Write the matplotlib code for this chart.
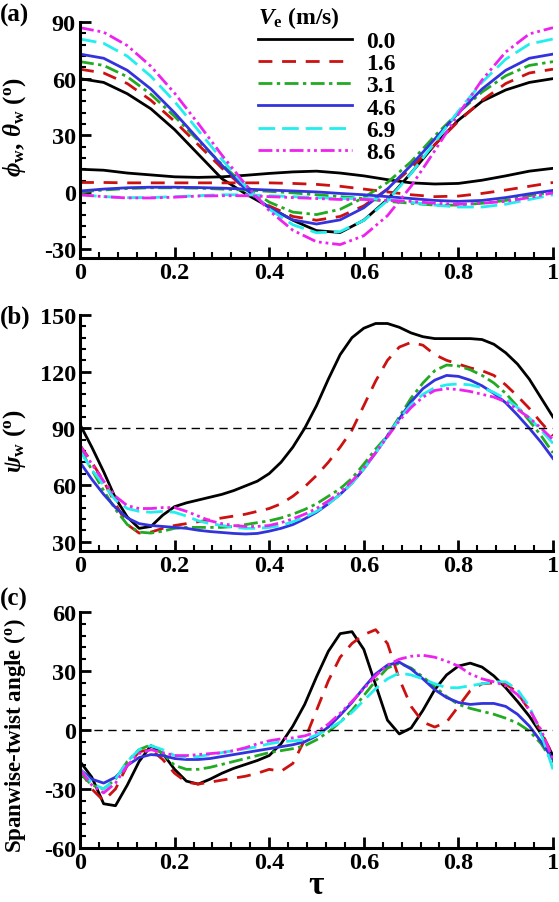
import numpy as np
import matplotlib
matplotlib.use("Agg")
import matplotlib.pyplot as plt
from matplotlib.ticker import MultipleLocator

plt.rcParams['font.family'] = ['Liberation Serif', 'DejaVu Serif']
plt.rcParams['font.weight'] = 'bold'
plt.rcParams['mathtext.fontset'] = 'custom'
plt.rcParams['mathtext.rm'] = 'Liberation Serif:bold'
plt.rcParams['mathtext.it'] = 'Liberation Serif:italic:bold'
plt.rcParams['mathtext.bf'] = 'Liberation Serif:bold'
plt.rcParams['axes.unicode_minus'] = False

# ---------------- data ----------------
speeds = ['0.0', '1.6', '3.1', '4.6', '6.9', '8.6']

tau_a = [0.0, 0.05, 0.1, 0.15, 0.2, 0.25, 0.3, 0.35, 0.4, 0.45, 0.5,
         0.55, 0.6, 0.65, 0.7, 0.75, 0.8, 0.85, 0.9, 0.95, 1.0]

phi_00 = [60, 58, 52, 44, 33, 20, 7, -1, -8, -15, -20.5, -21.5, -15, -4, 10, 25, 38, 48, 54, 58, 60]
phi_16 = [65, 63, 57.4, 48.5, 37.4, 25, 12.6, 1.5, -7.4, -13, -15, -13, -7.4, 1.5, 12.6, 25, 37.4, 48.5, 57.4, 63, 65]
phi_31 = [69, 67, 61, 51.7, 40, 27.2, 14.5, 3.2, -5.4, -10.7, -12, -9.2, -3, 5, 16, 29.7, 42, 52.9, 61.5, 67, 69]
phi_46 = [73, 70.8, 64.4, 54.5, 41.9, 28, 14.1, 1.5, -8.4, -14.8, -17, -14.8, -8.4, 1.5, 14.1, 28, 41.9, 54.5, 64.4, 70.8, 73]
phi_69 = [81, 78.7, 71.9, 61.2, 47.9, 32.6, 17.2, 3, -9.1, -17.4, -21.6, -21, -15.1, -4.6, 9.8, 26.2, 42.8, 58.1, 70.3, 78.3, 81]
phi_86 = [87, 84.6, 77.5, 66.5, 52.3, 36.2, 19.5, 3.9, -9.9, -20.3, -26.4, -27.9, -23.2, -12.6, 3, 21.8, 41.2, 59.3, 74.1, 83.7, 87]

theta_00 = [12, 11.5, 10, 9, 8, 7.7, 8, 8.8, 9.8, 10.6, 11, 10, 8.5, 6.5, 4.8, 4.2, 4.5, 6.2, 8.5, 11, 12.5]
theta_16 = [5, 5, 4.8, 4.8, 4.8, 4.8, 4.8, 4.8, 4.8, 4.5, 4, 3, 1.5, 0, -1.5, -2.5, -2.2, -0.8, 1, 3, 5]
theta_31 = [0, 1, 1.8, 2.2, 2.2, 2, 1.5, 1, 0.3, -0.5, -1.5, -2.5, -3.5, -5, -6, -7, -7, -6, -4.5, -2, 0]
theta_46 = [0.5, 1.5, 2.2, 2.5, 2.5, 2.3, 2, 1.5, 1, 0.5, 0, -0.8, -1.5, -2.5, -3.5, -4.5, -5, -4.5, -3, -1, 0.8]
theta_69 = [-1.5, -2.5, -3, -3, -2.5, -2, -1.5, -1.5, -2, -2.5, -3, -3.5, -3.5, -4, -5.5, -7, -8, -8, -6.5, -4, -1.5]
theta_86 = [-1.5, -2.5, -3.2, -3.2, -2.8, -2.2, -2, -2, -2.5, -3, -3.5, -4, -4, -4.5, -5, -6, -6.5, -6, -5, -3, -0.5]

tau_bc = [0.0, 0.025, 0.05, 0.075, 0.1, 0.125, 0.15, 0.175, 0.2, 0.225,
          0.25, 0.275, 0.3, 0.325, 0.35, 0.375, 0.4, 0.425, 0.45, 0.475,
          0.5, 0.525, 0.55, 0.575, 0.6, 0.625, 0.65, 0.675, 0.7, 0.725,
          0.75, 0.775, 0.8, 0.825, 0.85, 0.875, 0.9, 0.925, 0.95, 0.975, 1.0]

psi_00 = [92, 80, 67, 53, 43, 37, 38, 44, 48.5, 50.5, 52, 53.5, 55, 57, 59.5, 62, 66, 72, 80, 90,
          102, 116, 129, 138, 143, 145.5, 145.5, 143.5, 140.5, 138.5, 137.5, 137.5, 137.5, 137.5,
          137, 134.5, 130, 124, 116, 106, 96]
psi_16 = [81, 72, 62, 50, 39, 34.5, 35, 37, 38.5, 39.5, 40.5, 41.5, 42.5, 43.5, 44.5, 46, 47.5, 50, 54, 59,
          65, 72, 80, 89, 102, 115, 126, 133, 135.5, 134, 129, 126, 124, 122, 120.5, 118, 113, 107,
          100.5, 93, 86]
psi_31 = [79, 68, 57, 47, 39, 35, 34.5, 35.5, 37, 37.5, 37.5, 37.5, 37.5, 38, 39, 40, 41, 42.5, 44.5, 47,
          50, 54, 58, 63.5, 71, 79, 86, 96, 106, 114, 120.5, 123.5, 123, 121, 118, 114, 108.5, 101.5,
          94, 86, 77]
psi_46 = [72, 63, 55, 48, 42.5, 39.5, 38.5, 38, 37.5, 37, 36, 35.3, 34.8, 34.3, 34, 34.3, 35.5, 37, 39, 42,
          45.5, 50, 55, 61, 68.5, 77, 86, 95, 104, 111, 115.5, 118, 117.5, 115.5, 112.5, 108.5, 103.5,
          97, 90, 82.5, 74]
psi_69 = [78, 68, 60, 52, 47.5, 46, 45.5, 46, 45.5, 43.5, 41, 39.5, 38.5, 37.5, 37, 37, 37.5, 38.5, 40.5, 43,
          46, 50, 55, 61, 68.5, 77, 86, 95, 102.5, 108, 111.5, 113, 113.5, 113, 111.5, 109, 105.5, 101,
          95.5, 89, 82]
psi_86 = [81, 71, 62, 54, 49, 47.5, 47.5, 48, 48, 46, 43.5, 41, 39.5, 38.5, 38, 38, 38.5, 40, 42, 44.5,
          47.5, 51.5, 56, 62, 69, 77, 85.5, 94, 101, 106.5, 110, 111, 110.5, 109.5, 108, 106.5, 104, 100,
          95.5, 90, 84]

twist_00 = [-16, -24, -37.5, -38.5, -28, -16, -8, -12, -20, -26, -27.5, -25, -22, -19.5, -17.5, -15.5, -13,
            -7, 2, 13, 27, 40, 49, 50, 41, 23, 5, -2, 1, 10, 20.5, 28, 32.5, 34, 32, 27.5, 21.5, 14.5, 7, -2, -13]
twist_16 = [-20, -30, -36, -30, -18, -11, -10, -15, -22, -26.5, -27.5, -26.5, -25.5, -24.5, -23.5, -22, -20,
            -21, -17, -5, 10, 25, 37, 44, 48.5, 51, 44, 26, 12, 4, 1.5, 4, 12, 20, 23.5, 24, 23.5, 19, 10, -1, -13]
twist_31 = [-22, -28, -30, -25, -16, -10, -7.5, -12, -18, -20, -20, -19, -17.5, -16, -14.5, -13, -11.5,
            -10.5, -9.5, -8, -5, -1, 4, 10, 17.5, 25, 31.5, 34, 31.5, 27, 22, 17, 13, 11, 9.5, 8, 6, 3.5, -0.5, -7, -16.5]
twist_46 = [-20, -25, -27, -24, -18, -14, -12.5, -13, -14.5, -15, -15, -14.5, -13.5, -12.5, -11.5, -10.5,
            -9.5, -8.5, -7.5, -6, -3, 1.5, 7.5, 14, 21.5, 28.5, 33, 34.5, 31, 26, 20.5, 16.5, 14, 13, 13.5,
            13.5, 12, 8, 2, -6, -15]
twist_69 = [-20, -27, -30, -25, -16, -10, -8, -10, -13, -14, -13.5, -12.5, -11.5, -10.5, -9.5, -8.5, -7, -6,
            -5.5, -5, -2.5, 0.5, 4, 9, 15, 21, 26, 29, 28, 26, 23.5, 21.5, 21.5, 22.5, 23.5, 24.5, 24.5, 20.5,
            12, -2, -20]
twist_86 = [-20, -28, -32, -27, -18, -12, -10, -11.5, -13, -13, -12.5, -12, -11.5, -10.5, -9, -7, -5.5, -4.5,
            -4, -3, -1, 3, 8.5, 14.5, 21, 27.5, 33, 36, 37.5, 38, 37, 35, 32.5, 28.5, 26, 24.5, 22.5, 18, 10.5, 0, -15]

phi_all = [phi_00, phi_16, phi_31, phi_46, phi_69, phi_86]
theta_all = [theta_00, theta_16, theta_31, theta_46, theta_69, theta_86]
psi_all = [psi_00, psi_16, psi_31, psi_46, psi_69, psi_86]
twist_all = [twist_00, twist_16, twist_31, twist_46, twist_69, twist_86]

xtick_vals = [0, 0.2, 0.4, 0.6, 0.8, 1.0]
xtick_labels = ['0', '0.2', '0.4', '0.6', '0.8', '1']
a_yticks = [-30, 0, 30, 60, 90]
b_yticks = [30, 60, 90, 120, 150]
c_yticks = [-60, -30, 0, 30, 60]

# ---------------- style ----------------
colors = ['#000000', '#cc1111', '#22aa22', '#3333dd', '#22eeee', '#ee22ee']
styles = ['-', (0, (5, 3.5)), (0, (5, 1.6, 1.2, 1.6)), '-', (0, (6, 2.5)),
          (0, (5, 1.4, 1.0, 1.4, 1.0, 1.4))]
LW = 2.0
FS = 17.5

fig = plt.figure(figsize=(5.59, 9.03), dpi=100)
W, H = 559.0, 903.0
left = 80 / W
width = 473 / W
axh = 236 / H
ax_a = fig.add_axes([left, 1 - 259 / H, width, axh])
ax_b = fig.add_axes([left, 1 - 552 / H, width, axh])
ax_c = fig.add_axes([left, 1 - 849 / H, width, axh])


def style_axis(ax, yticks, ylim):
    ax.set_xlim(0, 1)
    ax.set_ylim(*ylim)
    ax.set_xticks(xtick_vals)
    ax.set_xticklabels(xtick_labels)
    ax.set_yticks(yticks)
    ax.set_yticklabels([str(v) for v in yticks])
    ax.xaxis.set_minor_locator(MultipleLocator(0.04))
    ax.yaxis.set_minor_locator(MultipleLocator(6))
    for s in ['top', 'right']:
        ax.spines[s].set_visible(False)
    for s in ['left', 'bottom']:
        ax.spines[s].set_linewidth(2.2)
    ax.tick_params(which='major', direction='in', length=8, width=2.0,
                   labelsize=FS, pad=3)
    ax.tick_params(which='minor', direction='in', length=4.5, width=1.5)
    for lab in ax.get_xticklabels() + ax.get_yticklabels():
        lab.set_fontweight('bold')


# panel (a)
handles = []
for i in range(6):
    h, = ax_a.plot(tau_a, phi_all[i], color=colors[i], ls=styles[i], lw=LW)
    ax_a.plot(tau_a, theta_all[i], color=colors[i], ls=styles[i], lw=LW)
    handles.append(h)
style_axis(ax_a, a_yticks, (-35, 90))
ax_a.set_ylabel(r'$\phi_\mathrm{w}$, $\theta_\mathrm{w}$ $(^\mathrm{o})$', fontsize=18,
                fontweight='bold')
ax_a.yaxis.set_label_coords(-0.11, 0.56)

leg = ax_a.legend(handles, speeds, title=r'$V_\mathrm{e}$ (m/s)', frameon=False,
                  loc='upper left', bbox_to_anchor=(246 / W, 1 + 7 / H),
                  bbox_transform=fig.transFigure, handlelength=4.0,
                  handletextpad=0.6, labelspacing=0.03, borderpad=0,
                  prop={'size': 17, 'weight': 'bold'}, alignment='left')
leg.get_title().set_fontsize(17)
leg.get_title().set_fontweight('bold')

# panel (b)
for i in range(6):
    ax_b.plot(tau_bc, psi_all[i], color=colors[i], ls=styles[i], lw=LW)
ax_b.axhline(90, color='black', lw=1.0, ls=(0, (6, 4)))
style_axis(ax_b, b_yticks, (25, 150))
ax_b.set_ylabel(r'$\psi_\mathrm{w}$ $(^\mathrm{o})$', fontsize=18, fontweight='bold')
ax_b.yaxis.set_label_coords(-0.11, 0.47)

# panel (c)
for i in range(6):
    ax_c.plot(tau_bc, twist_all[i], color=colors[i], ls=styles[i], lw=LW)
ax_c.axhline(0, color='black', lw=1.0, ls=(0, (6, 4)))
style_axis(ax_c, c_yticks, (-60, 60))
ax_c.set_ylabel(r'Spanwise-twist angle $(^\mathrm{o})$', fontsize=16.5, fontweight='bold')
ax_c.yaxis.set_label_coords(-0.11, 0.48)
ax_c.set_xlabel(r'$\mathbf{\tau}$', fontsize=24, labelpad=-3)

# panel letters
fig.text(0 / W, 1 - 15 / H, '(a)', fontsize=18, fontweight='bold', va='center', ha='left')
fig.text(0 / W, 1 - 317 / H, '(b)', fontsize=18, fontweight='bold', va='center', ha='left')
fig.text(0 / W, 1 - 599 / H, '(c)', fontsize=18, fontweight='bold', va='center', ha='left')

fig.savefig('out.png', dpi=100)
